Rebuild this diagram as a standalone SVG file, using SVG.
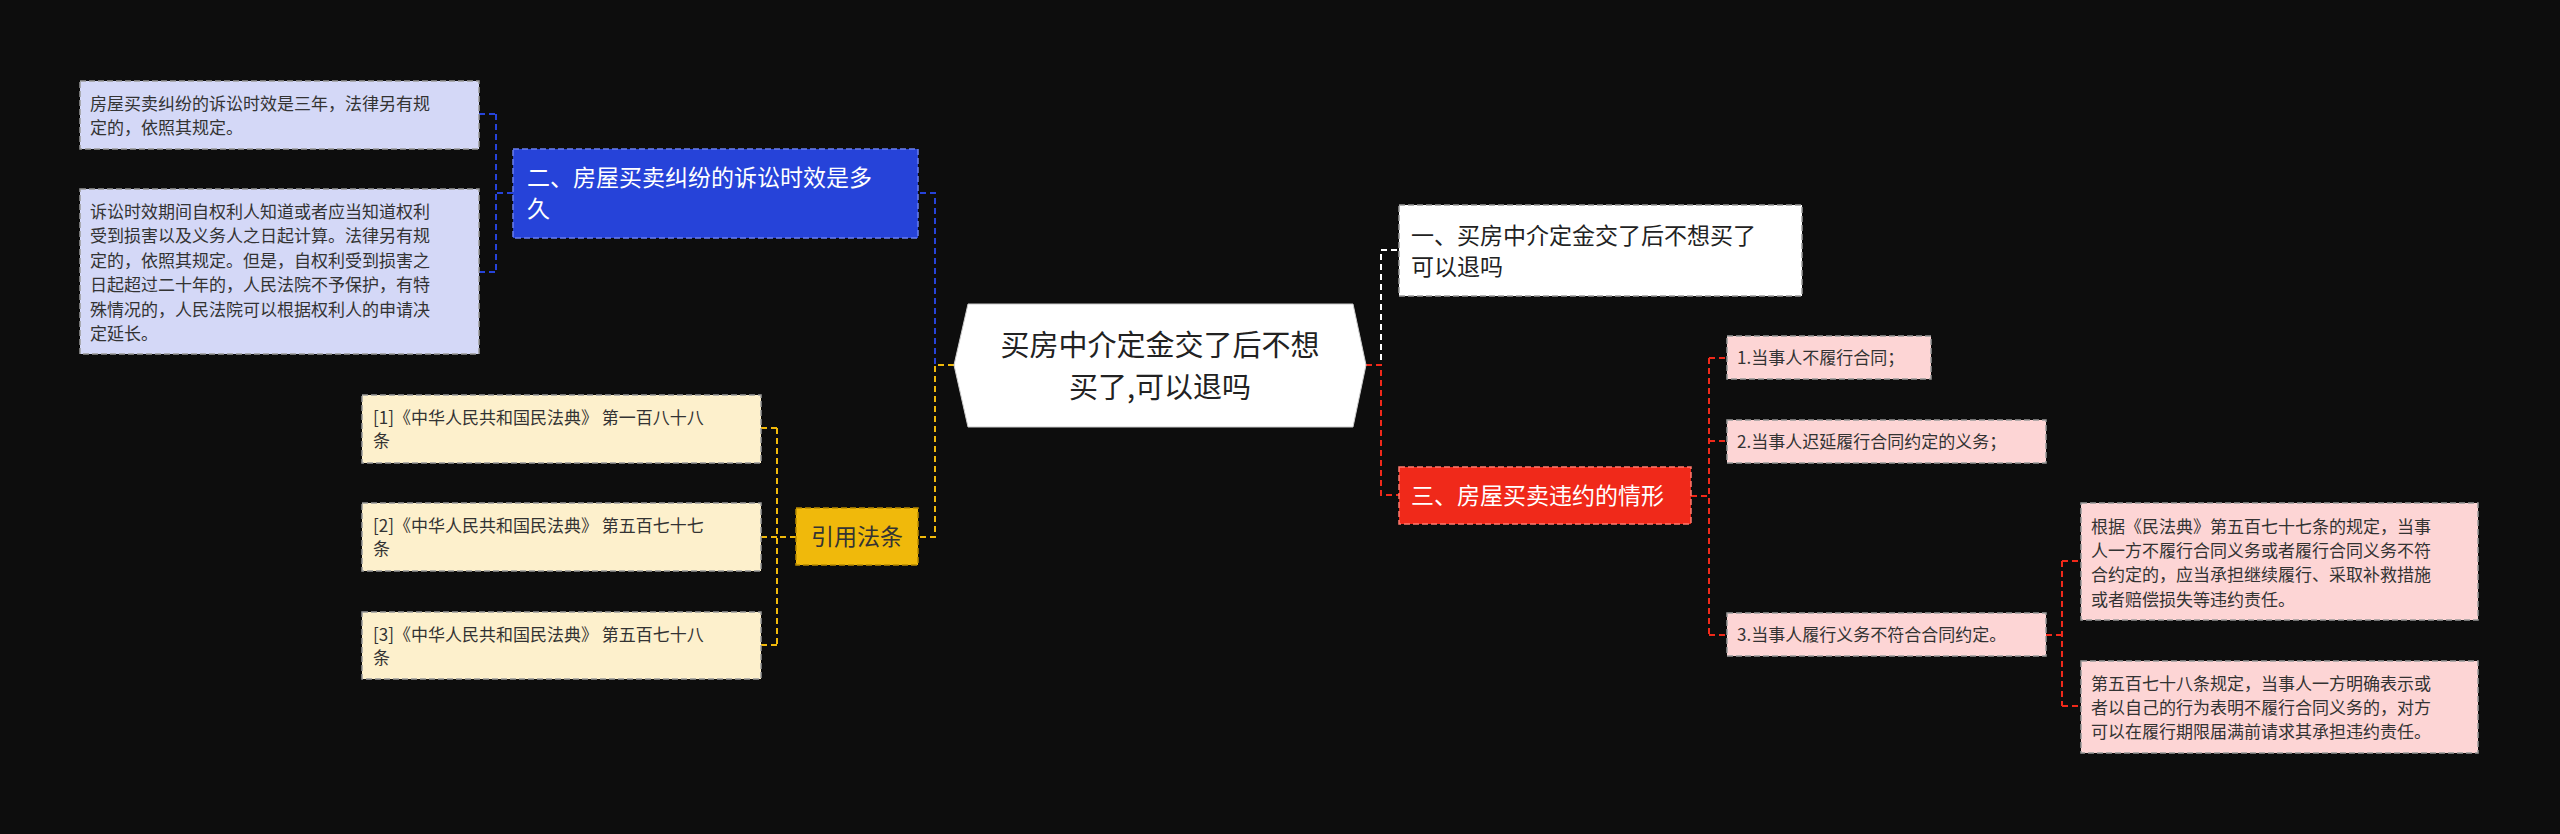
<svg xmlns="http://www.w3.org/2000/svg" width="2560" height="834" viewBox="0 0 2560 834">
<style>
text{font-family:"Noto Sans CJK SC","Liberation Sans",sans-serif;}
.leaf{font-size:17px;fill:#333;}
.l1{font-size:23px;}
.c{fill:none;stroke-width:2;stroke-dasharray:6,4;}
.bx{stroke-dasharray:6,3;stroke-width:1.5;}
</style>
<rect width="2560" height="834" fill="#0d0d0d"/>
<g id="connectors">
<path class="c" stroke="#2643d9" d="M954,365 H935 V193 H918"/>
<path class="c" stroke="#f0b90b" d="M954,365 H935 V537 H918"/>
<path class="c" stroke="#2643d9" d="M513,193 H496 M496,114 V272 M479,114 H496 M479,272 H496"/>
<path class="c" stroke="#f0b90b" d="M796,537 H777 M777,428 V645 M761,428 H777 M761,537 H777 M761,645 H777"/>
<path class="c" stroke="#ffffff" d="M1366,365 H1381 V250 H1399"/>
<path class="c" stroke="#f0291a" d="M1366,365 H1381 V495 H1399"/>
<path class="c" stroke="#f0291a" d="M1691,496 H1709 M1709,358 V635 M1709,358 H1727 M1709,441 H1727 M1709,635 H1727"/>
<path class="c" stroke="#f0291a" d="M2046,635 H2062 M2062,561 V706 M2062,561 H2081 M2062,706 H2081"/>
</g>
<g id="center">
<polygon points="968,304 1353,304 1366,365 1353,427 968,427 954,365" fill="#fff" stroke="#ccc"/>
<text x="1160" y="356" font-size="29" fill="#222" text-anchor="middle">买房中介定金交了后不想</text>
<text x="1160" y="398" font-size="29" fill="#222" text-anchor="middle">买了,可以退吗</text>
</g>
<g id="n2">
<rect x="513" y="149" width="405" height="89" fill="#2643d9" stroke="#6a7ff0" class="bx"/>
<text x="527" y="186" class="l1" fill="#fff">二、房屋买卖纠纷的诉讼时效是多</text>
<text x="527" y="217" class="l1" fill="#fff">久</text>
</g>
<g id="n2a">
<rect x="80" y="81" width="399" height="68" fill="#d4d8f7" stroke="#999" class="bx"/>
<text class="leaf" x="90" y="110">房屋买卖纠纷的诉讼时效是三年，法律另有规</text>
<text class="leaf" x="90" y="134">定的，依照其规定。</text>
</g>
<g id="n2b">
<rect x="80" y="189" width="399" height="165" fill="#d4d8f7" stroke="#999" class="bx"/>
<text class="leaf" x="90" y="218">诉讼时效期间自权利人知道或者应当知道权利</text>
<text class="leaf" x="90" y="242">受到损害以及义务人之日起计算。法律另有规</text>
<text class="leaf" x="90" y="267">定的，依照其规定。但是，自权利受到损害之</text>
<text class="leaf" x="90" y="291">日起超过二十年的，人民法院不予保护，有特</text>
<text class="leaf" x="90" y="316">殊情况的，人民法院可以根据权利人的申请决</text>
<text class="leaf" x="90" y="340">定延长。</text>
</g>
<g id="nref">
<rect x="796" y="508" width="122" height="57" fill="#f0b90b" stroke="#b88a00" class="bx"/>
<text x="857" y="545" class="l1" fill="#333" text-anchor="middle">引用法条</text>
</g>
<g id="r1">
<rect x="362" y="395" width="399" height="68" fill="#fdf0cc" stroke="#999" class="bx"/>
<text class="leaf" x="373" y="424">[1]《中华人民共和国民法典》 第一百八十八</text>
<text class="leaf" x="373" y="447">条</text>
</g>
<g id="r2">
<rect x="362" y="503" width="399" height="68" fill="#fdf0cc" stroke="#999" class="bx"/>
<text class="leaf" x="373" y="532">[2]《中华人民共和国民法典》 第五百七十七</text>
<text class="leaf" x="373" y="555">条</text>
</g>
<g id="r3">
<rect x="362" y="612" width="399" height="67" fill="#fdf0cc" stroke="#999" class="bx"/>
<text class="leaf" x="373" y="641">[3]《中华人民共和国民法典》 第五百七十八</text>
<text class="leaf" x="373" y="664">条</text>
</g>
<g id="n1">
<rect x="1399" y="205" width="403" height="91" fill="#fff" stroke="#999" class="bx"/>
<text x="1411" y="244" class="l1" fill="#222">一、买房中介定金交了后不想买了</text>
<text x="1411" y="275" class="l1" fill="#222">可以退吗</text>
</g>
<g id="n3">
<rect x="1399" y="467" width="292" height="57" fill="#f0291a" stroke="#ff7a6e" class="bx"/>
<text x="1411" y="504" class="l1" fill="#fff">三、房屋买卖违约的情形</text>
</g>
<g id="i1">
<rect x="1727" y="336" width="204" height="43" fill="#fdd5d5" stroke="#999" class="bx"/>
<text class="leaf" x="1737" y="364">1.当事人不履行合同；</text>
</g>
<g id="i2">
<rect x="1727" y="420" width="319" height="43" fill="#fdd5d5" stroke="#999" class="bx"/>
<text class="leaf" x="1737" y="448">2.当事人迟延履行合同约定的义务；</text>
</g>
<g id="i3">
<rect x="1727" y="613" width="319" height="43" fill="#fdd5d5" stroke="#999" class="bx"/>
<text class="leaf" x="1737" y="641">3.当事人履行义务不符合合同约定。</text>
</g>
<g id="d1">
<rect x="2081" y="503" width="397" height="117" fill="#fdd5d5" stroke="#999" class="bx"/>
<text class="leaf" x="2091" y="533">根据《民法典》第五百七十七条的规定，当事</text>
<text class="leaf" x="2091" y="557">人一方不履行合同义务或者履行合同义务不符</text>
<text class="leaf" x="2091" y="581">合约定的，应当承担继续履行、采取补救措施</text>
<text class="leaf" x="2091" y="606">或者赔偿损失等违约责任。</text>
</g>
<g id="d2">
<rect x="2081" y="661" width="397" height="92" fill="#fdd5d5" stroke="#999" class="bx"/>
<text class="leaf" x="2091" y="690">第五百七十八条规定，当事人一方明确表示或</text>
<text class="leaf" x="2091" y="714">者以自己的行为表明不履行合同义务的，对方</text>
<text class="leaf" x="2091" y="738">可以在履行期限届满前请求其承担违约责任。</text>
</g>
</svg>
